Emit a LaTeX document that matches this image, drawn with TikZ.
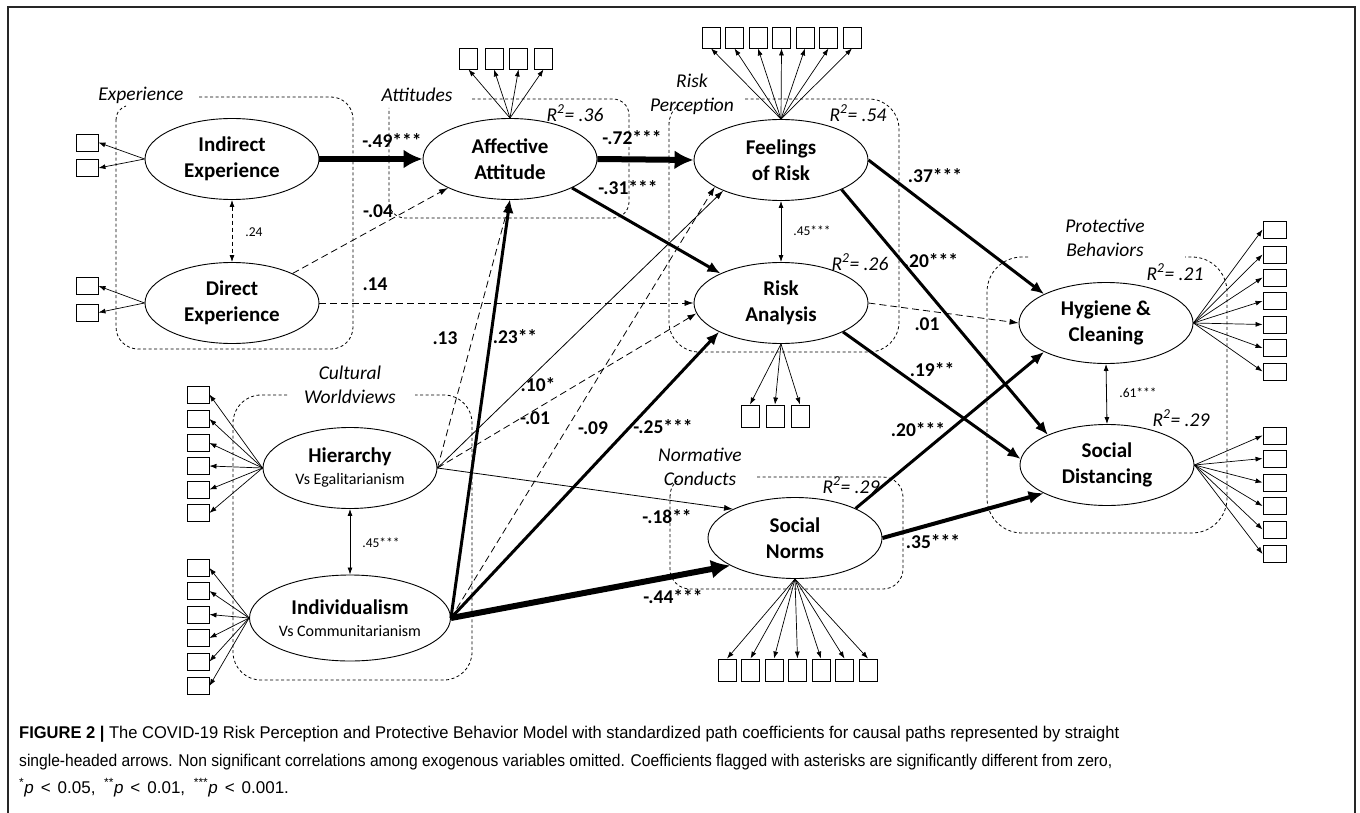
\documentclass[tikz,border=0pt]{standalone}
\usepackage{graphicx}
\usepackage{fontspec}
\setmainfont{Carlito}
\newfontfamily\capfont{Liberation Sans}
\usetikzlibrary{shapes.geometric,arrows.meta}
\tikzset{
  lat/.style={ellipse,draw,line width=0.9pt,minimum width=174pt,minimum height=81pt,inner sep=0pt,align=center,font=\fontsize{21}{26}\selectfont\bfseries},
  obsa/.style={draw,line width=0.9pt,inner sep=0pt,minimum width=22pt,minimum height=17pt},
  obsb/.style={draw,line width=0.9pt,inner sep=0pt,minimum width=18pt,minimum height=21pt},
  ld/.style={line width=0.7pt,-{Latex[length=7pt,width=5pt]}},
  pthin/.style={line width=0.8pt,-{Latex[length=9pt,width=6pt]}},
  pdash/.style={line width=0.8pt,dash pattern=on 7pt off 4pt,-{Latex[length=9pt,width=6pt]}},
  pthick/.style={line width=3pt,-{Latex[length=13pt,width=11pt]}},
  pmid/.style={line width=4pt,-{Latex[length=15pt,width=13pt]}},
  pbold/.style={line width=6pt,-{Latex[length=19pt,width=19pt]}},
  corr/.style={line width=0.8pt,{Latex[length=7pt,width=5pt]}-{Latex[length=7pt,width=5pt]}},
  corrd/.style={line width=0.8pt,dash pattern=on 4pt off 3pt,{Latex[length=7pt,width=5pt]}-{Latex[length=7pt,width=5pt]}},
  grp/.style={line width=0.8pt,dash pattern=on 3pt off 2.5pt},
  coef/.style={font=\fontsize{19.5}{21}\selectfont\bfseries,inner sep=0pt},
  scoef/.style={font=\fontsize{13.5}{15}\selectfont,inner sep=0pt},
  glab/.style={font=\fontsize{19.5}{24}\selectfont\itshape,inner sep=0pt,align=center},
  capline/.style={anchor=base west,inner sep=0pt,font=\capfont\fontsize{17}{19}\selectfont},
}
\newcommand\ltsign{\hspace{7pt}<\hspace{7pt}}
\begin{document}
\begin{tikzpicture}[x=1pt,y=-1pt]
\useasboundingbox (0,0) rectangle (1360,813);
\fill[white] (0,0) rectangle (1360,813);
% frame
\draw[line width=1.4pt,black!85] (8,813) -- (8,7) -- (1355,7) -- (1355,813);

% group boxes
\draw[grp,rounded corners=22pt] (199,97) -- (353,97) -- (353,349) -- (116,349) -- (116,120);
\draw[grp] (116,120) .. controls (116,113) and (119,109) .. (126,106);
\draw[grp,rounded corners=16pt] (472,99) -- (629,99) -- (629,218) -- (389,218) -- (389,108);
\draw[grp,rounded corners=30pt] (745,99) -- (899,99) -- (899,352) -- (669,352) -- (669,125);
\draw[grp] (669,125) .. controls (669,117) and (672,110) .. (679,105);
\draw[grp,rounded corners=35pt] (1028,257) -- (987,257) -- (987,533) -- (1227,533) -- (1227,257) -- (1185,257);
\draw[grp,rounded corners=28pt] (287,395) -- (233,395) -- (233,680) -- (472,680) -- (472,395) -- (415,395);
\draw[grp,rounded corners=20pt] (757,477) -- (903,477) -- (903,589) -- (670,589) -- (670,497);
\draw[grp] (670,497) .. controls (670,490) and (672,485) .. (677,481);

% group labels
\node[glab] (gExp) at (141,95) {Experience};
\node[glab] (gAtt) at (417,95) {Attitudes};
\node[glab] (gRP) at (692,94) {Risk\\Perception};
\node[glab] (gCW) at (350,385) {Cultural\\Worldviews};
\node[glab] (gNC) at (700,467) {Normative\\Conducts};
\node[glab] (gPB) at (1105,238) {Protective\\Behaviors};

% latent variables
\node[lat] (ie) at (232,159) {Indirect\\Experience};
\node[lat] (de) at (232,303) {Direct\\Experience};
\node[lat] (aa) at (510,159) {Affective\\Attitude};
\node[lat] (fr) at (781,160) {Feelings\\of Risk};
\node[lat] (ra) at (781,303) {Risk\\Analysis};
\node[lat] (hc) at (1106,323) {Hygiene \&\\Cleaning};
\node[lat] (sd) at (1107,465) {Social\\Distancing};
\node[lat] (sn) at (795,538) {Social\\Norms};
\node[lat] (hi) at (350,468) {Hierarchy\\[-4pt]{\fontsize{16}{18}\selectfont\mdseries Vs Egalitarianism}};
\node[lat,minimum height=86pt] (in) at (350,618) {Individualism\\[-4pt]{\fontsize{16}{18}\selectfont\mdseries Vs Communitarianism}};

% indicators
\foreach \yy [count=\i] in {142.5,168} {\node[obsa] (iex\i) at (87,\yy) {}; \draw[ld] (ie.west) -- (iex\i.east);}
\foreach \yy [count=\i] in {286,312.5} {\node[obsa] (dex\i) at (87,\yy) {}; \draw[ld] (de.west) -- (dex\i.east);}
\foreach \xx [count=\i] in {468.5,494,518.5,543.5} {\node[obsb] (aax\i) at (\xx,58.5) {}; \draw[ld] (aa.north) -- (aax\i.south);}
\foreach \xx [count=\i] in {711,734.5,758,781.5,805,828.5,852} {\node[obsb] (frx\i) at (\xx,37.5) {}; \draw[ld] (fr.north) -- (frx\i.south);}
\foreach \xx [count=\i] in {750,775,800} {\node[obsb,minimum height=22pt] (rax\i) at (\xx,416) {}; \draw[ld] (ra.south) -- (rax\i.north);}
\foreach \xx [count=\i] in {727,750.5,774,797.5,821,844.5,868} {\node[obsb,minimum height=22pt] (snx\i) at (\xx,670) {}; \draw[ld] (sn.south) -- (snx\i.north);}
\foreach \yy [count=\i] in {229.5,254.5,277.5,301,324.5,348,371.5} {\node[obsa,minimum width=23pt] (hcx\i) at (1274.5,\yy) {}; \draw[ld] (hc.east) -- (hcx\i.west);}
\foreach \yy [count=\i] in {435.5,458.5,482.5,506,529.5,554} {\node[obsa,minimum width=23pt] (sdx\i) at (1274.5,\yy) {}; \draw[ld] (sd.east) -- (sdx\i.west);}
\foreach \yy [count=\i] in {394.5,419,443,466,489.5,513} {\node[obsa] (hix\i) at (198,\yy) {}; \draw[ld] (hi.west) -- (hix\i.east);}
\foreach \yy [count=\i] in {568,591,614.5,638,661.5,686} {\node[obsa] (inx\i) at (198,\yy) {}; \draw[ld] (in.west) -- (inx\i.east);}

% structural paths
\draw[pbold] (ie.east) -- (aa.west);
\draw[pdash] (de.26) -- (aa.-155);
\draw[pdash] (de.east) -- (ra.west);
\draw[corrd] (ie.south) -- (de.north);
\draw[pbold] (aa.east) -- (fr.west);
\draw[pthick] (aa.-25) -- (ra.154);
\draw[corr] (fr.south) -- (ra.north);
\draw[pthick] (fr.east) -- (hc.155);
\draw[pthick] (fr.-26) -- (sd.153);
\draw[pdash] (ra.east) -- (hc.west);
\draw[pthick] (ra.-25) -- (sd.176);
\draw[pthick] (sn.26) -- (hc.-155);
\draw[pmid] (sn.east) -- (sd.-156);
\draw[corr] (hc.south) -- (sd.north);
\draw[corr] (hi.south) -- (in.north);
\draw[pthin] (hi.east) -- (sn.155);
\draw[pdash] (hi.east) -- (aa.south);
\draw[pthick] (in.east) -- (aa.south);
\draw[pthin] (hi.east) -- (fr.-152);
\draw[pdash] (in.east) -- (fr.-158);
\draw[pdash] (hi.east) -- (ra.-173);
\draw[pthick] (in.east) -- (ra.-155);
\draw[pbold] (in.east) -- (sn.-157);

% coefficients
\node[coef] (c1) at (392,141) {-.49***};
\node[coef] (c2) at (378,211) {-.04};
\node[coef] (c3) at (375,284) {.14};
\node[scoef] (c4) at (254,232) {.24};
\node[coef] (c5) at (632,138) {-.72***};
\node[coef] (c6) at (628,188) {-.31***};
\node[scoef] (c7) at (812,231) {.45***};
\node[coef] (c8) at (935,176) {.37***};
\node[coef] (c9) at (931,261) {.20***};
\node[coef] (c10) at (927,324) {.01};
\node[coef] (c11) at (932,370) {.19**};
\node[coef] (c12) at (918,430) {.20***};
\node[coef] (c13) at (933,542) {.35***};
\node[scoef] (c14) at (1138,393) {.61***};
\node[coef] (c15) at (445,338) {.13};
\node[coef] (c16) at (515,337) {.23**};
\node[coef] (c17) at (538,385) {.10*};
\node[coef] (c18) at (535,418) {-.01};
\node[coef] (c19) at (593,428) {-.09};
\node[coef] (c20) at (663,427) {-.25***};
\node[coef] (c21) at (667,517) {-.18**};
\node[coef] (c22) at (673,597) {-.44***};
\node[scoef] (c23) at (381,543) {.45***};

% R squared
\node[glab] (r1) at (575,113) {R\textsuperscript{2}= .36};
\node[glab] (r2) at (858,113) {R\textsuperscript{2}= .54};
\node[glab] (r3) at (860,262) {R\textsuperscript{2}= .26};
\node[glab] (r4) at (1175,272) {R\textsuperscript{2}= .21};
\node[glab] (r5) at (1181,418) {R\textsuperscript{2}= .29};
\node[glab] (r6) at (851,485) {R\textsuperscript{2}= .29};

% caption
\node[capline] (cap1) at (19,738) {\resizebox{1100pt}{\height}{{\bfseries FIGURE 2 |} The COVID-19 Risk Perception and Protective Behavior Model with standardized path coefficients for causal paths represented by straight}};
\node[capline] (cap2) at (19,766) {\resizebox{1093pt}{\height}{single-headed arrows. Non significant correlations among exogenous variables omitted. Coefficients flagged with asterisks are significantly different from zero,}};
\node[capline] (cap3) at (19,793) {\textsuperscript{*}\textit{p}\ltsign 0.05,\hspace{4pt} \textsuperscript{**}\textit{p}\ltsign 0.01,\hspace{4pt} \textsuperscript{***}\textit{p}\ltsign 0.001.};
\end{tikzpicture}
\end{document}
